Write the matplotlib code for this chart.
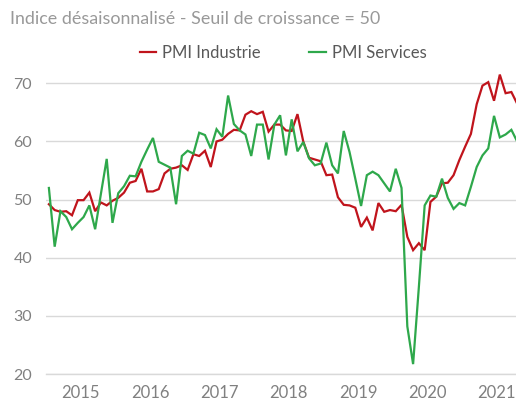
import matplotlib
matplotlib.use("Agg")
import matplotlib.pyplot as plt
import numpy as np

# ── Data (monthly, Jan 2015 onwards) ──────────────────────────
years = ["2015", "2016", "2017", "2018", "2019", "2020", "2021"]

pmi_industrie = [
    49.2, 48.2, 47.9, 48.0, 47.3, 49.9, 49.9, 51.2, 48.0, 49.5, 49.0, 49.8,
    50.3, 51.2, 52.9, 53.2, 55.3, 51.4, 51.4, 51.8, 54.5, 55.3, 55.5, 55.9,
    55.1, 57.8, 57.5, 58.4, 55.6, 60.0, 60.3, 61.3, 62.0, 61.9, 64.6, 65.2,
    64.7, 65.1, 61.7, 62.9, 62.9, 61.9, 61.8, 64.7, 60.0, 57.2, 56.9, 56.6,
    54.2, 54.3, 50.4, 49.1, 49.0, 48.6, 45.3, 46.9, 44.7, 49.4, 47.9, 48.2,
    48.0, 49.1, 43.6, 41.3, 42.5, 41.3, 49.6, 50.5, 52.8, 52.9, 54.2, 56.8,
    59.1, 61.3, 66.4, 69.6, 70.2, 67.0, 71.5, 68.3, 68.5, 66.5,
]

pmi_services = [
    52.0, 41.9, 48.0, 47.0, 44.9, 46.0, 47.0, 49.0, 44.9, 51.0, 57.0, 46.0,
    51.1, 52.3, 54.1, 54.0, 56.5, 58.6, 60.6, 56.5, 56.0, 55.5, 49.2, 57.5,
    58.4, 57.9, 61.5, 61.1, 58.8, 62.1, 60.8, 67.9, 63.0, 61.9, 61.2, 57.5,
    62.9, 62.9, 56.9, 62.9, 64.5, 57.6, 63.8, 58.3, 59.9, 57.1, 55.9, 56.2,
    59.8, 55.9, 54.5, 61.8, 58.2, 53.6, 48.9, 54.2, 54.8, 54.2, 52.8, 51.4,
    55.3, 52.0, 28.2, 21.7, 35.0, 49.0, 50.7, 50.5, 53.6, 50.3, 48.4, 49.4,
    49.0, 52.2, 55.6, 57.6, 58.8, 64.4, 60.7, 61.2, 62.0, 60.0,
]

RED = "#C0141C"
GREEN = "#2EA84B"
GRID = "#D9D9D9"
TXT = "#808080"
FONT = "Lato"

plt.rcParams["font.family"] = FONT

fig = plt.figure(figsize=(5.16, 4.01), dpi=100)
ax = fig.add_axes([46 / 516, 27 / 401, 470 / 516, 0.7684])

months = np.arange(len(pmi_industrie))
ax.plot(months, pmi_industrie, color=RED, lw=1.6, label="PMI Industrie", solid_joinstyle="miter")
ax.plot(months, pmi_services, color=GREEN, lw=1.6, label="PMI Services", solid_joinstyle="miter")

ax.set_xlim(-0.5, 80.8)
ax.set_ylim(20, 73)
ax.set_yticks([20, 30, 40, 50, 60, 70])
ax.set_xticks([5.5 + 12 * k for k in range(len(years))])
ax.set_xticklabels(years)

ax.grid(axis="y", color=GRID, lw=1.0)
ax.set_axisbelow(True)
for side in ["top", "right", "left"]:
    ax.spines[side].set_visible(False)
ax.spines["bottom"].set_color(GRID)
ax.spines["bottom"].set_linewidth(1.0)
ax.tick_params(length=0, colors=TXT)
ax.tick_params(axis="y", labelsize=11.5, pad=10)
ax.tick_params(axis="x", labelsize=12, pad=8)

fig.text(10 / 516, 1 - 19 / 401, "Indice désaisonnalisé - Seuil de croissance = 50",
         ha="left", va="center", fontsize=12.9, color="#999999")

fig.legend(loc="center", bbox_to_anchor=(283 / 516, 1 - 53 / 401), ncol=2,
           frameon=False, fontsize=12, handlelength=1.0, handletextpad=0.35,
           columnspacing=2.9, labelcolor="#595959")

fig.savefig("out.png", dpi=100)
